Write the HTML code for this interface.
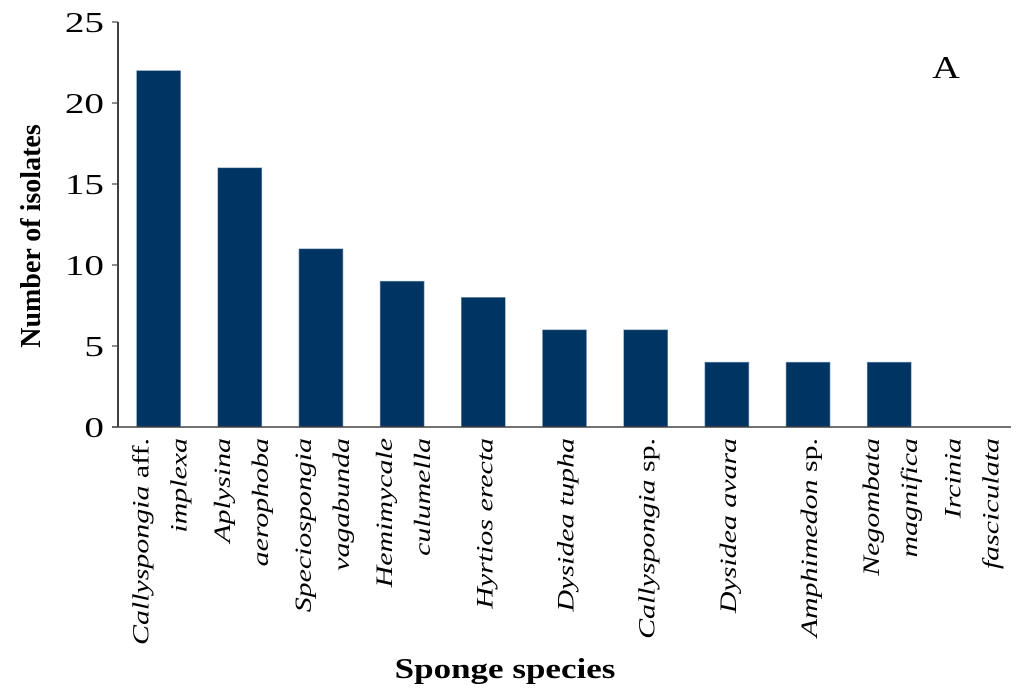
<!DOCTYPE html>
<html><head><meta charset="utf-8"><style>
body{margin:0;background:#fff}
svg{display:block;font-family:"Liberation Serif",serif}
</style></head><body>
<svg id="c" width="1024" height="699">
<text transform="translate(946,78) scale(1.2,1)" font-size="32" text-anchor="middle">A</text>
<text transform="translate(40,236) rotate(-90)" font-size="28" font-weight="bold" text-anchor="middle">Number of isolates</text>
<text transform="translate(505,678) scale(1.25,1)" font-size="28" font-weight="bold" text-anchor="middle">Sponge species</text>
</svg>
<script>
const categories=[["Callyspongia |aff.","implexa"],["Aplysina","aerophoba"],["Speciospongia","vagabunda"],["Hemimycale","culumella"],["Hyrtios erecta"],["Dysidea tupha"],["Callyspongia |sp."],["Dysidea avara"],["Amphimedon |sp."],["Negombata","magnifica"],["Ircinia","fasciculata"]];
const values=[22,16,11,9,8,6,6,4,4,4,0];
const yTicks=[0,5,10,15,20,25];
const svg=document.getElementById('c');
const NS='http://www.w3.org/2000/svg';
const x0=118,x1=1011,y0=427,yTop=22,yMax=25;
const band=(x1-x0)/categories.length;
const y=v=>y0-(y0-yTop)*v/yMax;
const xc=i=>x0+band*(i+0.5);
function mk(t,a){const e=document.createElementNS(NS,t);for(const k in a)e.setAttribute(k,a[k]);svg.appendChild(e);return e;}
values.forEach((v,i)=>{
 if(v<=0)return;
 const r=mk('rect',{x:xc(i)-22,y:y(v),width:44,height:y0-y(v),fill:'#003463',stroke:'#7f9ab5','stroke-width':0.6});
 
 
});
const ya=mk('line',{x1:x0,y1:yTop,x2:x0,y2:y0,stroke:'#000','stroke-width':1.5});


const xa=mk('line',{x1:x0-6,y1:y0,x2:x1,y2:y0,stroke:'#444','stroke-width':1.5});


yTicks.forEach(t=>{
 const l=mk('line',{x1:x0-6,y1:y(t),x2:x0,y2:y(t),stroke:'#444','stroke-width':1.2});
 
 
 const tx=mk('text',{transform:`translate(${x0-14},${y(t)+10}) scale(1.35,1)`,'font-size':29,'text-anchor':'end'});
 tx.textContent=t;
 
 
});
categories.forEach((lines,i)=>{
 const n=lines.length;
 lines.forEach((s,j)=>{
  const off=(j-(n-1)/2)*38;
  const cx=xc(i)+off+9;
  const t=mk('text',{transform:`translate(${cx},438) rotate(-90) scale(1.3,1)`,'font-size':23,'text-anchor':'end'});
  const parts=s.split('|');
  const a=document.createElementNS(NS,'tspan');a.setAttribute('font-style','italic');a.textContent=parts[0];t.appendChild(a);
  if(parts[1]){const b=document.createElementNS(NS,'tspan');b.textContent=parts[1];t.appendChild(b);}
  
  
 });
});
</script>
</body></html>
